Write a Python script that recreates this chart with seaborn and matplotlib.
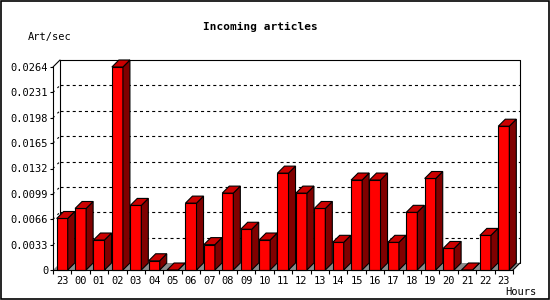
import matplotlib
matplotlib.use("Agg")
import matplotlib.pyplot as plt
from matplotlib.patches import Polygon, Rectangle
import seaborn as sns
import pandas as pd

hours = ["23", "00", "01", "02", "03", "04", "05", "06", "07", "08", "09", "10",
         "11", "12", "13", "14", "15", "16", "17", "18", "19", "20", "21", "22", "23"]
rates = [0.0067, 0.0080, 0.0039, 0.0264, 0.0084, 0.0012, 0.0, 0.0087, 0.0033, 0.0100,
         0.0053, 0.0039, 0.0126, 0.0100, 0.0080, 0.0036, 0.0117, 0.0117, 0.0036, 0.0075,
         0.0119, 0.0028, 0.0, 0.0045, 0.0187]
ytick_vals = [0, 0.0033, 0.0066, 0.0099, 0.0132, 0.0165, 0.0198, 0.0231, 0.0264]
ytick_labels = ["0", "0.0033", "0.0066", "0.0099", "0.0132", "0.0165", "0.0198", "0.0231", "0.0264"]

sns.set_style("white")
plt.rcParams["font.family"] = ["DejaVu Sans Mono"]
plt.rcParams["lines.scale_dashes"] = False

W, H = 550, 300
fig = plt.figure(figsize=(5.5, 3.0), dpi=100)
fig.patch.set_facecolor("white")
# axes placed so front axis: x 53..513 px, y 67..270 px (from top)
ax = fig.add_axes([53 / W, (H - 270) / H, 460 / W, 203 / H])
ax.patch.set_visible(False)

df = pd.DataFrame({"slot": list(range(len(hours))), "rate": rates})
sns.barplot(data=df, x="slot", y="rate", color="#FF0000", saturation=1, width=0.6,
            edgecolor="black", linewidth=0.8, ax=ax, zorder=3)

n = len(hours)
ax.set_xlim(-0.5, n - 0.5)
ax.set_ylim(0, ytick_vals[-1])

px_x = 460 / n
px_y = 203 / ytick_vals[-1]
dx = 7 / px_x
dy = 7 / px_y

# back plane
back = Rectangle((-0.5 + dx, dy), n, ytick_vals[-1], facecolor="white", edgecolor="none",
                 zorder=0.5, clip_on=False)
ax.add_patch(back)
ax.plot([-0.5 + dx, -0.5 + dx, n - 0.5 + dx, n - 0.5 + dx],
        [dy, ytick_vals[-1] + dy, ytick_vals[-1] + dy, dy],
        color="black", lw=0.8, zorder=0.7, clip_on=False)
# floor
floor = Polygon([(-0.5, 0), (n - 0.5, 0), (n - 0.5 + dx, dy), (-0.5 + dx, dy)],
                closed=True, facecolor="#8c8c8c", edgecolor="none", zorder=0.8, clip_on=False)
ax.add_patch(floor)
ax.plot([n - 0.5, n - 0.5 + dx], [0, dy], color="black", lw=0.8, zorder=0.9, clip_on=False)
# top-left diagonal
ax.plot([-0.5, -0.5 + dx], [ytick_vals[-1], ytick_vals[-1] + dy], color="black", lw=0.8,
        zorder=0.9, clip_on=False)
# dotted gridlines on back plane + diagonal connectors
for t in ytick_vals[1:-1]:
    ax.plot([-0.5 + dx, n - 0.5 + dx], [t + dy, t + dy], color="black", lw=0.8,
            linestyle=(0, (2.2, 2.2)), zorder=0.9, clip_on=False)
    ax.plot([-0.5, -0.5 + dx], [t, t + dy], color="black", lw=0.8,
            linestyle=(0, (1.5, 3)), zorder=0.9, clip_on=False)

# 3D sides and tops
for p in list(ax.patches):
    if p in (back, floor):
        continue
    x0 = p.get_x()
    w = p.get_width()
    h = p.get_height()
    x1 = x0 + w
    side = Polygon([(x1, 0), (x1 + dx, dy), (x1 + dx, h + dy), (x1, h)], closed=True,
                   facecolor="#800000", edgecolor="black", lw=0.8, zorder=3, clip_on=False)
    top = Polygon([(x0, h), (x0 + dx, h + dy), (x1 + dx, h + dy), (x1, h)], closed=True,
                  facecolor="#CC0000", edgecolor="black", lw=0.8, zorder=3, clip_on=False)
    ax.add_patch(side)
    ax.add_patch(top)
    p.set_clip_on(False)

# axes styling
for s in ["top", "right"]:
    ax.spines[s].set_visible(False)
for s in ["left", "bottom"]:
    ax.spines[s].set_color("black")
    ax.spines[s].set_linewidth(0.8)
    ax.spines[s].set_zorder(4)

ax.set_yticks(ytick_vals)
ax.set_yticklabels(ytick_labels)
ax.set_xticks(list(range(n)))
ax.set_xticklabels(hours)
ax.set_xticks([i - 0.5 for i in range(n + 1)], minor=True)
ax.tick_params(axis="x", which="major", length=0, pad=4.5, labelsize=7.5, colors="black")
ax.tick_params(axis="x", which="minor", length=3, width=0.8, direction="out", color="black",
               bottom=True)
ax.tick_params(axis="y", which="major", length=2.5, width=0.8, direction="out", pad=1,
               labelsize=7.5, colors="black", left=True)
ax.set_xlabel("")
ax.set_ylabel("")

fig.text(260 / W, 1 - 27 / H, "Incoming articles", ha="center", va="center",
         fontsize=8, fontweight="bold", color="black")
fig.text(28 / W, 1 - 37 / H, "Art/sec", ha="left", va="center", fontsize=7.5, color="black")
fig.text(505 / W, 1 - 292 / H, "Hours", ha="left", va="center", fontsize=7.5, color="black")

fig.patches.append(Rectangle((0.5 / W, 1.5 / H), 548 / W, 297.5 / H, transform=fig.transFigure,
                             fill=False, edgecolor="black", lw=1.2))

fig.savefig("out.png", dpi=100)
